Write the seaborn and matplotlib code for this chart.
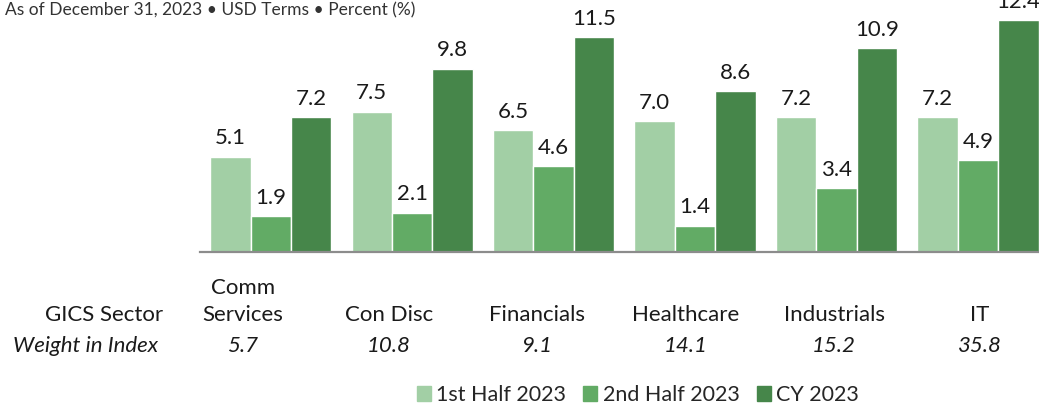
import matplotlib
matplotlib.use("Agg")
import matplotlib.pyplot as plt
import seaborn as sns
import pandas as pd

# data
sectors = ["Comm Services", "Con Disc", "Financials", "Healthcare", "Industrials", "IT"]
sector_labels = ["Comm\nServices", "Con Disc", "Financials", "Healthcare", "Industrials", "IT"]
weights = ["5.7", "10.8", "9.1", "14.1", "15.2", "35.8"]
first_half = [5.1, 7.5, 6.5, 7.0, 7.2, 7.2]
second_half = [1.9, 2.1, 4.6, 1.4, 3.4, 4.9]
full_year = [7.2, 9.8, 11.5, 8.6, 10.9, 12.4]
series = ["1st Half 2023", "2nd Half 2023", "CY 2023"]
colors = ["#a2cfa5", "#62ab65", "#46864a"]

rows = []
for name, vals in zip(series, [first_half, second_half, full_year]):
    for s, v in zip(sectors, vals):
        rows.append({"Sector": s, "Period": name, "Return": v})
df = pd.DataFrame(rows)

sns.set_theme(style="white")
plt.rcParams["font.family"] = ["Lato", "DejaVu Sans"]

W, H = 1039, 404
fig = plt.figure(figsize=(W / 100, H / 100), dpi=100)
ax = fig.add_axes([200 / W, 1 - 252 / H, 1 - 200 / W, 252 / H])

sns.barplot(data=df, x="Sector", y="Return", hue="Period", order=sectors,
            hue_order=series, palette=colors, width=0.858, gap=0,
            saturation=1, ax=ax, legend=False)

for cont in ax.containers:
    ax.bar_label(cont, fmt="%.1f", padding=6, fontsize=16, color="#1a1a1a")

ax.set_xlim(-0.5, 5.43)
ax.set_ylim(0, 13.48)
ax.set_xticks([])
ax.set_yticks([])
ax.set_xlabel("")
ax.set_ylabel("")
for side in ["left", "right", "top"]:
    ax.spines[side].set_visible(False)
ax.spines["bottom"].set_color("#8c8c8c")
ax.spines["bottom"].set_linewidth(1.6)

# table below the bars
col_x = [243, 389, 537, 686, 834, 980]
fig.text(163 / W, 1 - 321 / H, "GICS Sector", ha="right", va="baseline",
         fontsize=16, color="#1a1a1a")
fig.text(158 / W, 1 - 352 / H, "Weight in Index", ha="right", va="baseline",
         fontsize=16, style="italic", color="#1a1a1a")
for x, lab, w in zip(col_x, sector_labels, weights):
    fig.text(x / W, 1 - 321 / H, lab, ha="center", va="baseline",
             fontsize=16, color="#1a1a1a", linespacing=1.45)
    fig.text(x / W, 1 - 352 / H, w, ha="center", va="baseline",
             fontsize=16, style="italic", color="#1a1a1a")

fig.text(5 / W, 1 - 10 / H, "As of December 31, 2023 \u2022 USD Terms \u2022 Percent (%)",
         ha="left", va="center", fontsize=12.5, color="#333333")

handles = [plt.Rectangle((0, 0), 1, 1, color=c) for c in colors]
fig.legend(handles, series, loc="center", bbox_to_anchor=(638 / W, 1 - 395 / H),
           ncol=3, frameon=False, fontsize=15.5, handlelength=0.65, handleheight=0.65,
           handletextpad=0.25, columnspacing=0.8, borderaxespad=0)

fig.savefig("out.png", dpi=100)
